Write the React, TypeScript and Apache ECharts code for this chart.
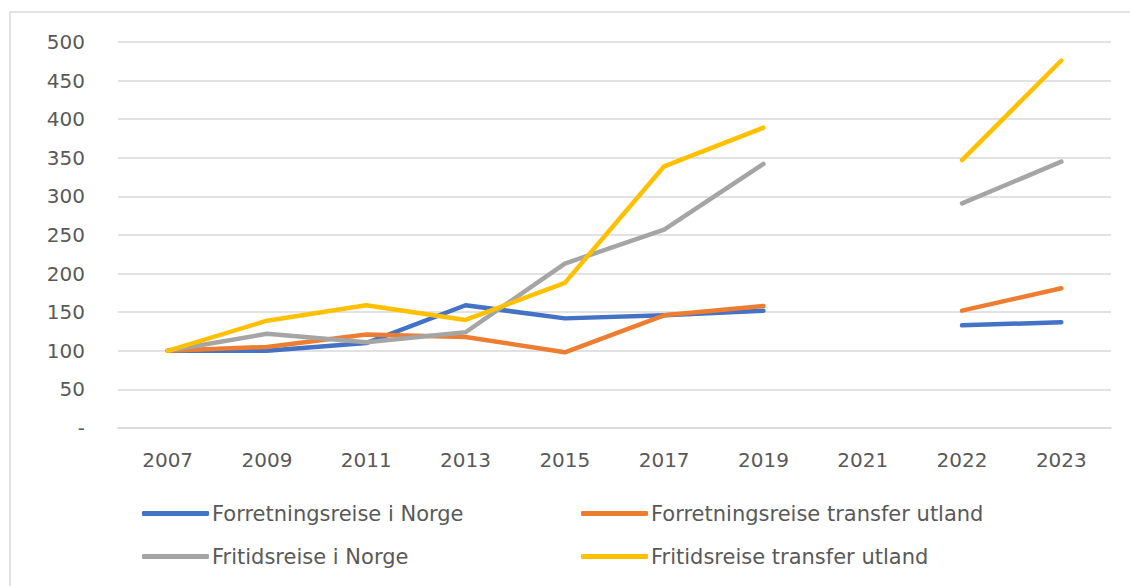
import React, { useEffect, useRef } from "react";
import * as echarts from "echarts";

const years = ["2007", "2009", "2011", "2013", "2015", "2017", "2019", "2021", "2022", "2023"];
const forretningNorge = [100, 100, 110, 159, 142, 146, 152, null, 133, 137];
const forretningUtland = [100, 105, 121, 118, 98, 146, 158, null, 152, 181];
const fritidNorge = [100, 122, 111, 124, 213, 257, 342, null, 291, 345];
const fritidUtland = [100, 139, 159, 140, 188, 339, 389, null, 347, 476];
const seriesNames = [
  "Forretningsreise i Norge",
  "Forretningsreise transfer utland",
  "Fritidsreise i Norge",
  "Fritidsreise transfer utland",
];
const colors = ["#4472C4", "#ED7D31", "#A5A5A5", "#FFC000"];

export default function App() {
  const ref = useRef<HTMLDivElement>(null);
  useEffect(() => {
    if (!ref.current) return;
    const chart = echarts.init(ref.current, null, { renderer: "svg" });
    const data = [forretningNorge, forretningUtland, fritidNorge, fritidUtland];
    const legendPos = [
      { left: 142, top: 503 },
      { left: 581, top: 503 },
      { left: 142, top: 546 },
      { left: 581, top: 546 },
    ];
    const legendFont = {
      fontFamily: "DejaVu Sans",
      fontSize: 21,
      color: "#595959",
      padding: [0, 0, 0, -2],
    };
    chart.setOption({
      animation: false,
      backgroundColor: "#ffffff",
      color: colors,
      graphic: [
        {
          type: "rect",
          shape: { x: 10, y: 12, width: 1130, height: 600 },
          style: { fill: "none", stroke: "#d9d9d9", lineWidth: 1.5 },
          silent: true,
        },
      ],
      grid: { left: 118, right: 19, top: 42, bottom: 158 },
      legend: seriesNames.map((n, i) => ({
        data: [n],
        left: legendPos[i].left,
        top: legendPos[i].top,
        icon: "roundRect",
        itemWidth: 67,
        itemHeight: 5,
        padding: 0,
        textStyle: legendFont,
      })),
      xAxis: {
        type: "category",
        data: years,
        boundaryGap: true,
        axisLine: { show: true, lineStyle: { color: "#d9d9d9", width: 1.5 } },
        axisTick: { show: false },
        axisLabel: {
          color: "#595959",
          fontFamily: "DejaVu Sans",
          fontSize: 20,
          margin: 22,
        },
      },
      yAxis: {
        type: "value",
        min: 0,
        max: 500,
        interval: 50,
        axisLine: { show: false },
        axisTick: { show: false },
        splitLine: { lineStyle: { color: "#d9d9d9", width: 1.5 } },
        axisLabel: {
          color: "#595959",
          fontFamily: "DejaVu Sans",
          fontSize: 20,
          margin: 33,
          formatter: (v: number) => (v === 0 ? "-" : String(v)),
        },
      },
      series: seriesNames.map((n, i) => ({
        name: n,
        type: "line",
        data: data[i],
        connectNulls: false,
        symbol: "none",
        lineStyle: { width: 4.5, color: colors[i], cap: "round", join: "round" },
        itemStyle: { color: colors[i] },
      })),
    });
    return () => chart.dispose();
  }, []);
  return (
    <div
      ref={ref}
      style={{ position: "fixed", left: 0, top: 0, width: 1130, height: 586 }}
    />
  );
}
